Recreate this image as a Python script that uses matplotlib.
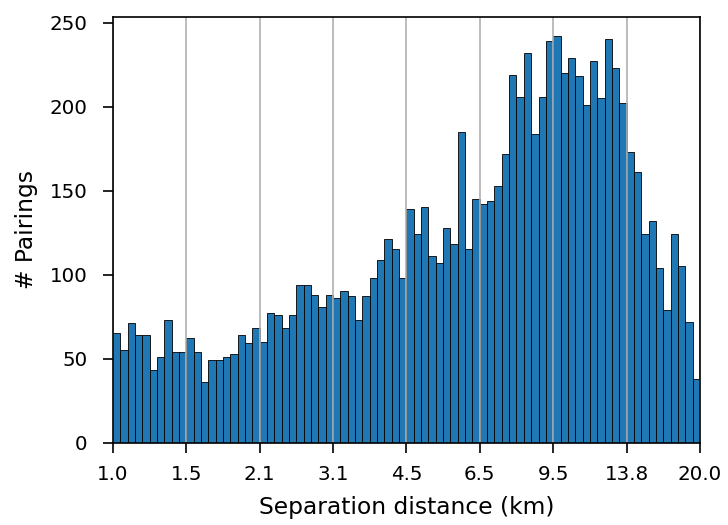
import numpy as np
import matplotlib
matplotlib.use('Agg')
import matplotlib.pyplot as plt

# pair counts per log-spaced distance bin (80 bins from 1 to 20 km)
d_min = 1.0
d_max = 20.0
counts = [65, 55, 71, 64, 64, 43, 51, 73, 54, 54,
          62, 54, 36, 49, 49, 51, 53, 64, 59, 68,
          60, 77, 76, 68, 76, 94, 94, 88, 81, 88,
          86, 90, 87, 73, 87, 98, 109, 121, 115, 98,
          139, 124, 140, 111, 107, 128, 118, 185, 115, 145,
          142, 144, 153, 172, 219, 206, 232, 184, 206, 239,
          242, 220, 229, 218, 201, 227, 205, 240, 223, 202,
          173, 161, 124, 132, 104, 79, 124, 105, 72, 38]
n_ticks = 9

edges = np.geomspace(d_min, d_max, len(counts) + 1)
ticks = np.geomspace(d_min, d_max, n_ticks)

fig = plt.figure(figsize=(7.28, 5.25), dpi=100)
ax = fig.add_axes([0.155, 0.157, 0.8065, 0.811])

ax.bar(edges[:-1], counts, width=np.diff(edges), align='edge',
       color='#1f77b4', edgecolor='black', linewidth=0.6)

ax.set_xscale('log')
ax.set_xlim(d_min, d_max)
ax.set_ylim(0, 253.5)
ax.set_xticks(ticks)
ax.set_xticklabels(['%.1f' % t for t in ticks])
ax.xaxis.set_minor_locator(matplotlib.ticker.NullLocator())
ax.set_yticks([0, 50, 100, 150, 200, 250])
ax.grid(axis='x', color='#b0b0b0', linewidth=1.2)
ax.tick_params(length=7.2, width=1.2, labelsize=14.3)
ax.tick_params(axis='x', pad=9)
ax.tick_params(axis='y', pad=11)
for s in ax.spines.values():
    s.set_linewidth(1.2)

ax.set_xlabel('Separation distance (km)', fontsize=16.8, labelpad=8.5)
ax.set_ylabel('# Pairings', fontsize=16.8, labelpad=8)

plt.savefig('out.png', dpi=100)
